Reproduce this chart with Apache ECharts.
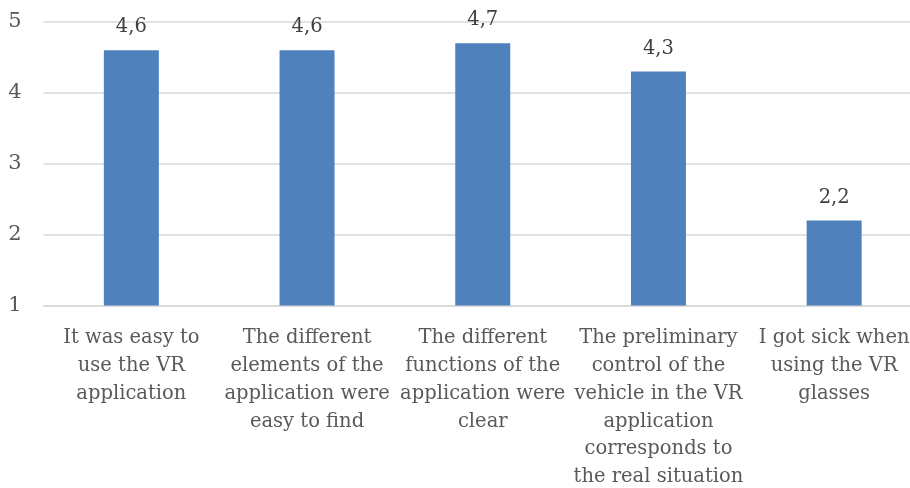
<!DOCTYPE html>
<html><head><meta charset="utf-8">
<script src="https://cdn.jsdelivr.net/npm/echarts@6/dist/echarts.min.js"></script>
<style>html,body{margin:0;padding:0;background:#fff;overflow:hidden;width:910px;height:488px}#c{width:923px;height:488px}</style>
</head><body><div id="c"></div>
<script>
const categories = [
  "It was easy to\nuse the VR\napplication",
  "The different\nelements of the\napplication were\neasy to find",
  "The different\nfunctions of the\napplication were\nclear",
  "The preliminary\ncontrol of the\nvehicle in the VR\napplication\ncorresponds to\nthe real situation",
  "I got sick when\nusing the VR\nglasses"
];
const values = [4.6, 4.6, 4.7, 4.3, 2.2];
const yTicks = [1, 2, 3, 4, 5];

const font = "'DejaVu Serif', serif";
const chart = echarts.init(document.getElementById('c'));
chart.setOption({
  animation: false,
  grid: { left: 43.5, top: 22, right: 1, height: 283.5, containLabel: false, outerBoundsMode: 'none' },
  xAxis: {
    type: 'category', data: categories,
    axisLine: { show: true, lineStyle: { color: '#d9d9d9', width: 1.5 } },
    axisTick: { show: false },
    axisLabel: { interval: 0, color: '#595959', fontFamily: font, fontSize: 19.5, lineHeight: 27.7, margin: 19 }
  },
  yAxis: {
    type: 'value', min: yTicks[0], max: yTicks[yTicks.length - 1], interval: 1,
    axisLine: { show: false }, axisTick: { show: false },
    splitLine: { lineStyle: { color: '#d9d9d9', width: 1.5 } },
    axisLabel: { color: '#595959', fontFamily: font, fontSize: 21, margin: 22 }
  },
  series: [{
    type: 'bar', data: values, barWidth: 55,
    itemStyle: { color: '#4f81bd' },
    label: {
      show: true, position: 'top', distance: 13, color: '#404040',
      fontFamily: font, fontSize: 19.5,
      formatter: p => String(p.value).replace('.', ',')
    }
  }]
});
</script></body></html>
